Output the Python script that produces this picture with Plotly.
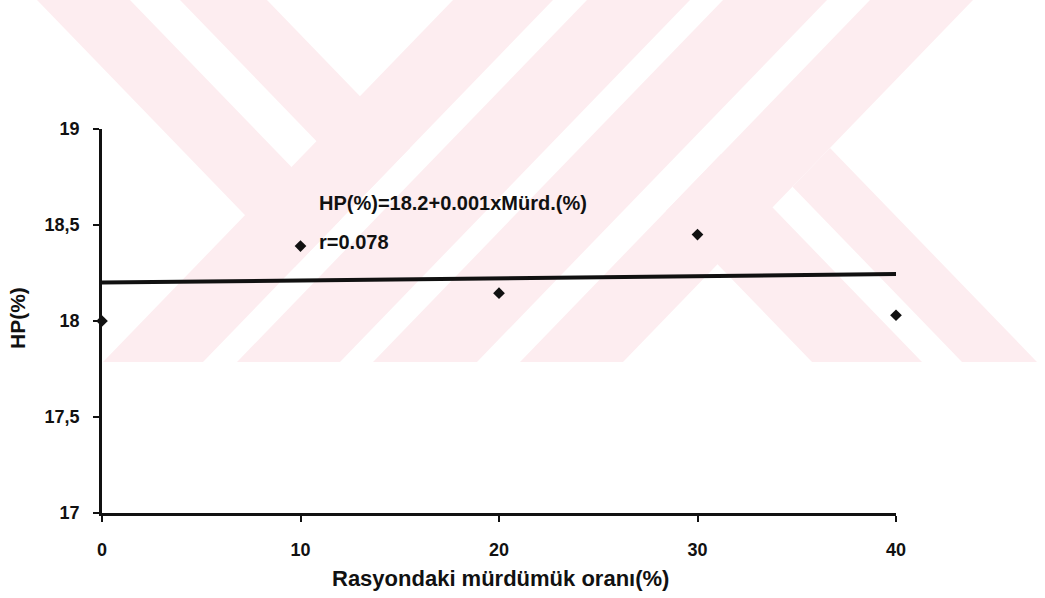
import plotly.graph_objects as go

# ---- data ----
murd_pct = [0, 10, 20, 30, 40]
hp_pct = [18.0, 18.39, 18.145, 18.45, 18.03]
trend_x = [0, 40]
trend_y = [18.2, 18.245]
x_ticks = [0, 10, 20, 30, 40]
x_ticklabels = ["0", "10", "20", "30", "40"]
y_ticks = [17, 17.5, 18, 18.5, 19]
y_ticklabels = ["17", "17,5", "18", "18,5", "19"]
equation_text = "HP(%)=18.2+0.001xMürd.(%)"
r_text = "r=0.078"
x_title = "Rasyondaki mürdümük oranı(%)"
y_title = "HP(%)"

# ---- layout geometry ----
W, Hh = 1045, 598
ML, MR, MT, MB = 102, 149, 129, 85
PW, PH = W - ML - MR, Hh - MT - MB

def px(xp, yp):
    return ((xp - ML) / PW, (Hh - MB - yp) / PH)

FONT = "Liberation Sans, Arial, sans-serif"
INK = "#111111"

# ---- background watermark (scanned page decoration) ----
WM_H = 362
S = 350 / 362

def cross(p, q):
    y = (p - q) / (2 * S)
    return (q + S * y, y)

wm_polys = []
for l, r in [(453, 553), (587, 690), (723, 827), (870, 973)]:
    wm_polys.append([(l, 0), (r, 0), (r - S * WM_H, WM_H), (l - S * WM_H, WM_H)])
for l, r in [(37, 130), (180, 267)]:
    wm_polys.append([(l, 0), (r, 0), cross(553, r), cross(553, l)])
wm_polys.append([cross(870, 462), cross(870, 572), (572 + S * WM_H, WM_H), (462 + S * WM_H, WM_H)])
wm_polys.append([cross(973, 612), cross(973, 687), (687 + S * WM_H, WM_H), (612 + S * WM_H, WM_H)])

shapes = []
for poly in wm_polys:
    pts = [px(a, b) for a, b in poly]
    path = "M " + " L ".join(f"{a:.5f},{b:.5f}" for a, b in pts) + " Z"
    shapes.append(dict(type="path", path=path, xref="paper", yref="paper",
                       fillcolor="#fdedf0", line=dict(width=0), layer="below"))

fig = go.Figure()
fig.add_trace(go.Scatter(x=trend_x, y=trend_y, mode="lines",
                         line=dict(color=INK, width=4),
                         cliponaxis=False, showlegend=False, hoverinfo="skip"))
fig.add_trace(go.Scatter(x=murd_pct, y=hp_pct, mode="markers",
                         marker=dict(symbol="diamond", size=9, color=INK),
                         cliponaxis=False, showlegend=False))

ex, ey = px(317, 203)
rx, ry = px(317, 242)
tx, ty = px(500, 578)
yx, yy = px(17, 318)
annotations = [
    dict(text=equation_text, x=ex, y=ey, xref="paper", yref="paper", xanchor="left",
         yanchor="middle", showarrow=False, font=dict(family=FONT, size=20, color=INK, weight="bold")),
    dict(text=r_text, x=rx, y=ry, xref="paper", yref="paper", xanchor="left",
         yanchor="middle", showarrow=False, font=dict(family=FONT, size=20, color=INK, weight="bold")),
    dict(text=x_title, x=tx, y=ty, xref="paper", yref="paper", xanchor="center",
         yanchor="middle", showarrow=False, font=dict(family=FONT, size=22, color=INK, weight="bold")),
    dict(text=y_title, x=yx, y=yy, xref="paper", yref="paper", xanchor="center",
         yanchor="middle", showarrow=False, textangle=-90,
         font=dict(family=FONT, size=21, color=INK, weight="bold")),
]

fig.update_layout(
    width=W, height=Hh,
    margin=dict(l=ML, r=MR, t=MT, b=MB, pad=0),
    paper_bgcolor="white", plot_bgcolor="rgba(0,0,0,0)",
    shapes=shapes, annotations=annotations, showlegend=False,
)
fig.update_xaxes(range=[0, 40], tickvals=x_ticks, ticktext=x_ticklabels,
                 showgrid=False, zeroline=False, showline=True, linecolor=INK, linewidth=2.5,
                 ticks="outside", ticklen=6, tickwidth=2, tickcolor=INK,
                 ticklabelstandoff=13,
                 tickfont=dict(family=FONT, size=18, color=INK, weight="bold"))
fig.update_yaxes(range=[17, 19], tickvals=y_ticks, ticktext=y_ticklabels,
                 showgrid=False, zeroline=False, showline=True, linecolor=INK, linewidth=2.5,
                 ticks="outside", ticklen=6, tickwidth=2, tickcolor=INK,
                 ticklabelstandoff=10,
                 tickfont=dict(family=FONT, size=18, color=INK, weight="bold"))

fig.write_html("out.html")
